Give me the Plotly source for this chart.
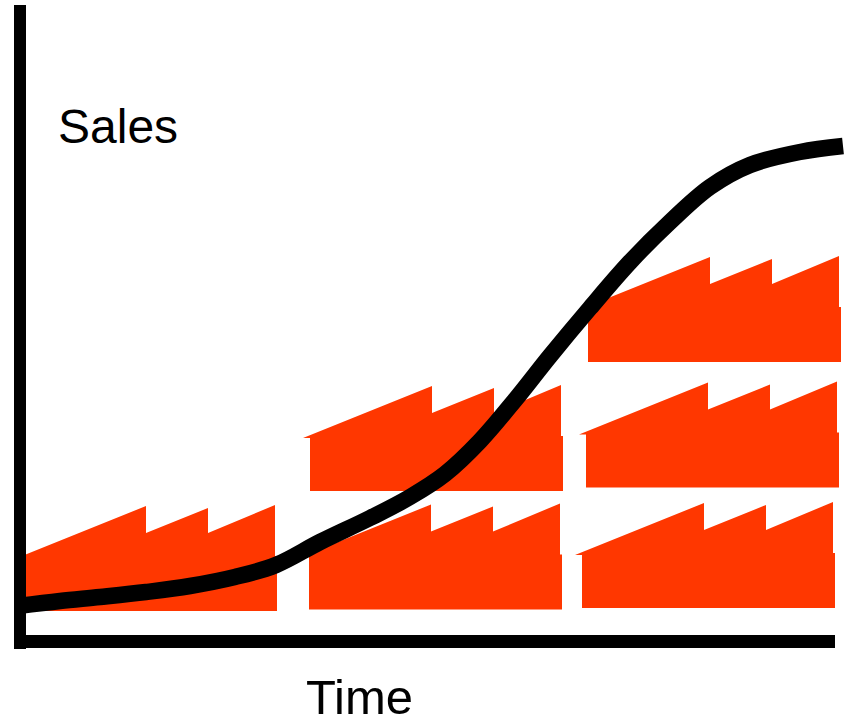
import plotly.graph_objects as go

# Factory silhouette, in chart units
factory_x = [303, 432, 432, 494, 494, 561, 561, 563, 563, 310, 310, 303]
factory_y = [438, 386, 413, 388, 413, 385, 436, 436, 491, 491, 438, 438]
# Placement of each factory relative to the silhouette
factory_dx = [-286, -1, 0, 272, 276, 278]
factory_dy = [120, 118.5, 0, 117, -3.5, -129]

# Sales curve
time_values = [18, 60, 100, 146, 190, 235, 276, 320, 370, 410, 445, 480, 515, 550,
               590, 630, 670, 710, 750, 800, 843]
sales_values = [606, 601, 597, 592, 586, 577, 565, 542, 518, 497, 474, 441, 400, 356,
                308, 262, 222, 187, 165, 152, 146]

axis_x = [20, 20]
axis_y = [5, 649]
base_x = [14, 835]
base_y = [641.5, 641.5]

ORANGE = "#FF3700"
fig = go.Figure()
for dx, dy in zip(factory_dx, factory_dy):
    fig.add_trace(go.Scatter(
        x=[v + dx for v in factory_x], y=[v + dy for v in factory_y],
        mode="lines", fill="toself", fillcolor=ORANGE,
        line=dict(width=0, color=ORANGE), hoverinfo="skip", showlegend=False))

fig.add_trace(go.Scatter(x=time_values, y=sales_values, mode="lines",
                         line=dict(color="black", width=16.5, shape="spline", smoothing=1.0),
                         showlegend=False))
fig.add_trace(go.Scatter(x=axis_x, y=axis_y, mode="lines",
                         line=dict(color="black", width=12), showlegend=False))
fig.add_trace(go.Scatter(x=base_x, y=base_y, mode="lines",
                         line=dict(color="black", width=13), showlegend=False))

fig.add_annotation(x=56, y=126, text="Sales", showarrow=False, xanchor="left", yanchor="middle",
                   font=dict(family="Liberation Sans", size=48, color="black"))
fig.add_annotation(x=359, y=697, text="Time", showarrow=False, xanchor="center", yanchor="middle",
                   font=dict(family="Liberation Sans", size=49, color="black"))

fig.update_layout(
    width=849, height=720, margin=dict(l=0, r=0, t=0, b=0),
    paper_bgcolor="white", plot_bgcolor="white", showlegend=False,
    xaxis=dict(range=[0, 849], visible=False, fixedrange=True),
    yaxis=dict(range=[720, 0], visible=False, fixedrange=True),
)
fig.write_html("out.html", config=dict(displayModeBar=False),
               post_script="document.body.style.margin='0';document.documentElement.style.overflow='hidden';")
